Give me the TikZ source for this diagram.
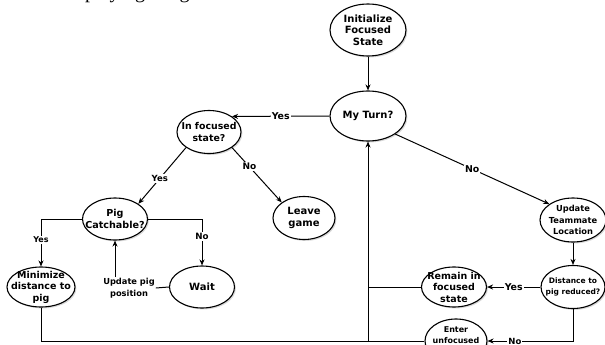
\documentclass[tikz,border=0pt]{standalone}
\usepackage{fontspec}
\setmainfont{DejaVu Sans}
\newfontfamily\serifx{Liberation Serif}
\usetikzlibrary{arrows.meta,shadows,shapes.geometric}
\tikzset{
  st/.style 2 args={ellipse, draw, line width=1.1pt, fill=white, inner sep=0pt,
    minimum width=#1pt, minimum height=#2pt,
    drop shadow={shadow xshift=1.4pt, shadow yshift=-1.4pt, opacity=0.3}},
  tx/.style={font=\bfseries\fontsize{#1}{11.5}\selectfont, align=center, inner sep=0pt},
  tx/.default=9.6,
  ln/.style={line width=1pt},
  ar/.style={ln, -{Stealth[length=6pt,width=5pt]}},
  lb/.style={fill=white, font=\bfseries\fontsize{#1}{11}\selectfont, inner sep=1pt},
  lb/.default=9.4,
}
\begin{document}
\begin{tikzpicture}[x=1pt,y=-1pt]
\useasboundingbox (0,0) rectangle (605,345);
\clip (0,0) rectangle (605,345);
\node[font=\serifx\fontsize{20}{20}\selectfont, anchor=base west, inner sep=0pt] (cap) at (85,-1) {playing the game};
\node[st={76}{52}, label={[tx=10, text depth=0pt]center:{Initialize\\Focused\\State}}] (init) at (368,30) {};
\node[st={76}{50}, label={[tx=10]center:{My Turn?}}] (myturn) at (368,116) {};
\node[st={64}{43}, label={[tx=9.4]center:{In focused\\state?}}] (infoc) at (209,132) {};
\node[st={65}{42}, label={[tx=9.6]center:{Pig\\Catchable?}}] (pig) at (115,219) {};
\node[st={62}{43}, label={[tx=10]center:{Leave\\game}}] (leave) at (304,218) {};
\node[st={68}{40}, label={[tx=9.5]center:{Minimize\\distance to\\pig}}] (mini) at (41,287) {};
\node[st={65}{42}, label={[tx=10]center:{Wait}}] (wait) at (202,287) {};
\node[tx=8.3, inner sep=1pt] (upd) at (129,288) {Update pig\\position};
\node[st={66}{44}, label={[tx=8.3]center:{Update\\Teammate\\Location}}] (team) at (573,220) {};
\node[st={64}{43}, label={[tx=7.5]center:{Distance to\\pig reduced?}}] (dist) at (573,287) {};
\node[st={65}{40}, label={[tx=9.5]center:{Remain in\\focused\\state}}] (remain) at (454,287) {};
\node[st={62}{44}, label={[tx=8]center:{Enter\\unfocused\\state}}] (enter) at (456,341) {};

\draw[ar] (init) -- (myturn);
\draw[ar] (myturn.west) -- node[lb]{Yes} (infoc.north east);
\draw[ar] (myturn.south east) -- node[lb]{No} (team.north west);
\draw[ar] (infoc.south west) -- node[lb=8.5, pos=0.55]{Yes} (pig.north east);
\draw[ar] (infoc.south east) -- node[lb=9, pos=0.35]{No} (leave.north west);
\draw[ar] (pig.west) -| node[lb=8, pos=0.72]{Yes} (mini.north);
\draw[ar] (pig.east) -| node[lb=8.7, pos=0.69]{No} (wait.north);
\draw[ln] (wait.west) -- (upd.east);
\draw[ar] (pig.south |- upd.north) -- (pig.south);
\draw[ar] (team) -- (dist);
\draw[ar] (dist.west) -- node[lb]{Yes} (remain.east);
\draw[ar] (dist.south) |- node[lb=8.5, pos=0.84]{No} (enter.east);
\draw[ln] (mini.south) |- (enter.west);
\draw[ln] (remain.west) -- (remain.west -| myturn.south);
\draw[ar] (myturn.south |- enter.west) -- (myturn.south);
\end{tikzpicture}
\end{document}
